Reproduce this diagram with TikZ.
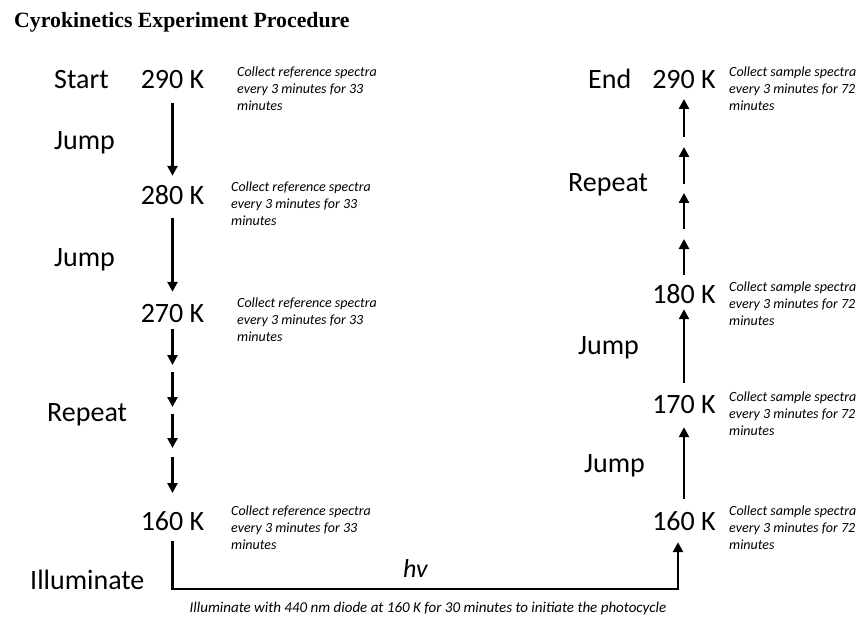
\documentclass[tikz,border=0pt]{standalone}
\usepackage{fontspec}
\setmainfont{Carlito}
\newfontfamily\titlefont{Liberation Serif}
\usetikzlibrary{arrows.meta}
\begin{document}
\begin{tikzpicture}[x=1pt,y=-1pt,
  temp/.style={font=\fontsize{28}{30}\selectfont, inner sep=0pt, text height=18pt, text depth=0pt, anchor=base},
  lbl/.style={font=\fontsize{28}{30}\selectfont, inner sep=0pt, anchor=base west},
  note/.style={font=\fontsize{14}{17}\selectfont\itshape, align=left, anchor=north west, inner sep=0pt},
  arr/.style={line width=2.8pt, -{Triangle[width=10pt,length=10pt]}}]
\useasboundingbox (0,0) rectangle (858,620);

% title
\node[anchor=base west, inner sep=0pt, font=\titlefont\bfseries\fontsize{21.8}{24}\selectfont] (title) at (14,28) {Cyrokinetics Experiment Procedure};

% left column: reference spectra while cooling
\node[lbl] (start) at (54,89) {Start};
\node[lbl] (jumpL1) at (54,150) {Jump};
\node[lbl] (jumpL2) at (54,266) {Jump};
\node[lbl] (repeatL) at (47,421) {Repeat};
\node[lbl] (illum) at (30,589) {Illuminate};

\node[temp] (t290L) at (172.5,89) {290 K};
\node[temp] (t280L) at (172.5,205) {280 K};
\node[temp] (t270L) at (172.5,322) {270 K};
\node[temp] (t160L) at (172.5,530) {160 K};

\node[note] (n290L) at (237,67) {Collect reference spectra\\every 3 minutes for 33\\minutes};
\node[note] (n280L) at (231,182) {Collect reference spectra\\every 3 minutes for 33\\minutes};
\node[note] (n270L) at (237,298) {Collect reference spectra\\every 3 minutes for 33\\minutes};
\node[note] (n160L) at (231,506) {Collect reference spectra\\every 3 minutes for 33\\minutes};

\draw[arr, shorten <=14pt, shorten >=11pt] (t290L) -- (t280L);
\draw[arr, shorten <=13pt, shorten >=12pt] (t280L) -- (t270L);
\foreach \i/\a/\b in {1/329/365, 2/372/407, 3/414/448, 4/457/493} {
  \coordinate (rl\i a) at (172.5,\a);
  \coordinate (rl\i b) at (172.5,\b);
  \draw[arr] (rl\i a) -- (rl\i b);
}

% right column: sample spectra while warming
\node[lbl] (end) at (588,89) {End};
\node[lbl] (repeatR) at (568,192) {Repeat};
\node[lbl] (jumpR1) at (578,354) {Jump};
\node[lbl] (jumpR2) at (584,472) {Jump};

\node[temp] (t290R) at (684,89) {290 K};
\node[temp] (t180) at (684,303) {180 K};
\node[temp] (t170) at (684,413) {170 K};
\node[temp] (t160R) at (684,530) {160 K};

\node[note] (n290R) at (729,67) {Collect sample spectra\\every 3 minutes for 72\\minutes};
\node[note] (n180) at (729,282) {Collect sample spectra\\every 3 minutes for 72\\minutes};
\node[note] (n170) at (729,392) {Collect sample spectra\\every 3 minutes for 72\\minutes};
\node[note] (n160R) at (729,506) {Collect sample spectra\\every 3 minutes for 72\\minutes};

\draw[arr, shorten <=13pt, shorten >=14pt] (t160R) -- (t170);
\draw[arr, shorten <=12pt, shorten >=6pt] (t170) -- (t180);
\foreach \i/\b/\t in {1/275/239, 2/229/193, 3/184/147, 4/137/99} {
  \coordinate (rr\i b) at (684,\b);
  \coordinate (rr\i t) at (684,\t);
  \draw[arr] (rr\i b) -- (rr\i t);
}

% illumination step
\coordinate (cornerL) at (172.5,589);
\coordinate (cornerR) at (678,589);
\draw[arr] ([yshift=-11pt]t160L.south) -- (cornerL) -- (cornerR) -- ([xshift=-6pt,yshift=-12pt]t160R.south);
\node[anchor=base west, inner sep=0pt, font=\fontsize{26}{28}\selectfont\itshape] (hv) at (403,577) {hv};
\node[anchor=base, inner sep=0pt, font=\fontsize{15}{17}\selectfont\itshape] (caption) at (428,612) {Illuminate with 440 nm diode at 160 K for 30 minutes to initiate the photocycle};
\end{tikzpicture}
\end{document}
